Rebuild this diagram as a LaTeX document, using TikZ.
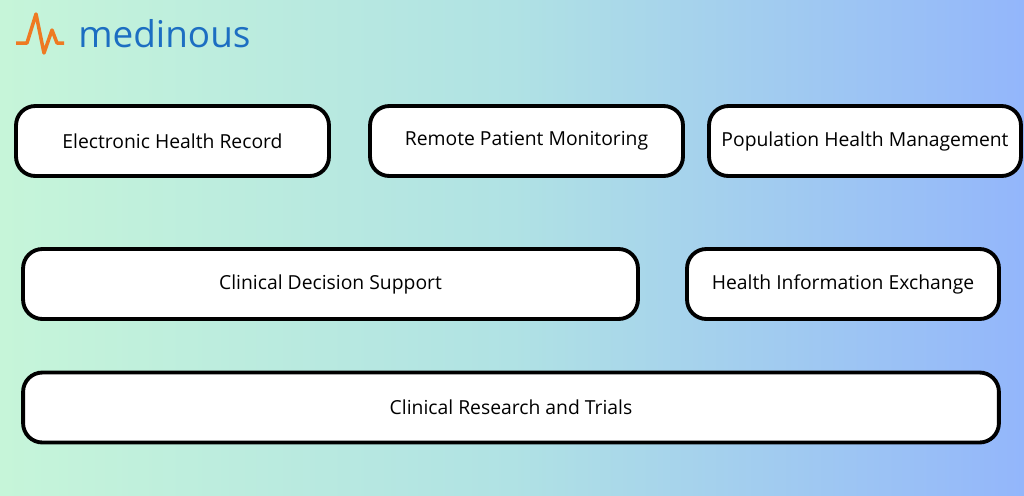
\documentclass[tikz,border=0pt]{standalone}
\usepackage{fontspec}
\setmainfont{Open Sans}
\usetikzlibrary{positioning}
\definecolor{bgleft}{HTML}{C6F5D9}
\definecolor{bgmid}{HTML}{B0E2E4}
\definecolor{bgright}{HTML}{93B6FB}
\definecolor{logoorange}{HTML}{EE7A22}
\definecolor{logoblue}{HTML}{1C6EC2}
\begin{document}
\begin{tikzpicture}[x=0.02cm, y=-0.02cm,
  box/.style={draw=black, line width=2.2pt, fill=white, rounded corners=11pt,
    minimum height=1.4cm, font=\fontsize{11}{13}\selectfont}]
% background
\fill[left color=bgleft, right color=bgright, middle color=bgmid] (0,0) rectangle (1024,495);
\useasboundingbox (0,0) rectangle (1024,495);
% logo
\draw[logoorange, line width=2pt, line join=round] (16,43) -- (27,43) -- (36,14) -- (44,53) -- (52,30) -- (57,43) -- (64,43);
\node[anchor=west, text=logoblue, font=\fontsize{21}{23}\selectfont, inner sep=0pt] (logo) at (78,34) {medinous};
% boxes
\node[box, minimum width=6.26cm] (ehr) at (172.5,141) {Electronic Health Record};
\node[box, minimum width=6.26cm] (rpm) at (526.5,141) {Remote Patient Monitoring};
\node[box, minimum width=6.24cm] (phm) at (865,141) {Population Health Management};
\node[box, minimum width=12.30cm] (cds) at (330.5,284) {Clinical Decision Support};
\node[box, minimum width=6.24cm] (hie) at (843,284) {Health Information Exchange};
\node[box, minimum width=19.52cm] (crt) at (511,407.5) {Clinical Research and Trials};
\end{tikzpicture}
\end{document}
